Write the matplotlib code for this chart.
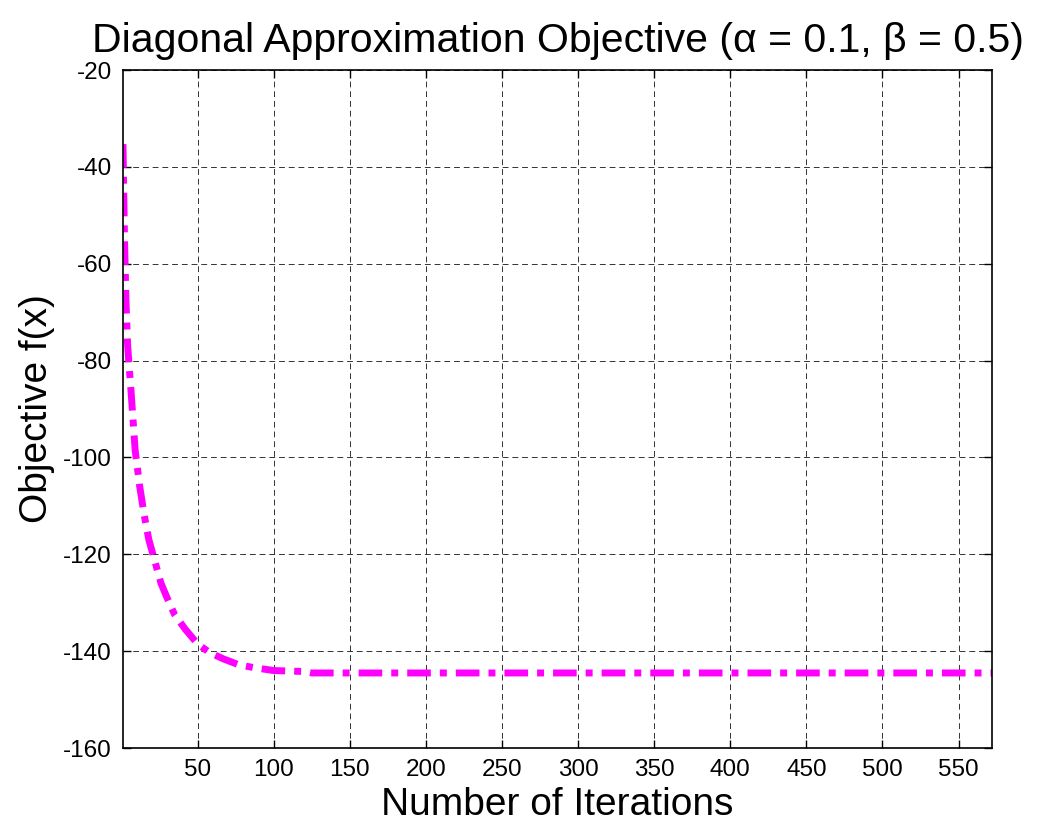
import matplotlib
matplotlib.use('Agg')
from matplotlib import pyplot as plt

# Objective value against iteration count
iteraciones = [1, 2, 3, 4, 5, 6, 7, 8, 9, 10, 12, 15, 18, 22, 26, 30, 35, 42, 50, 58, 67, 77,
               87, 100, 110, 120, 125, 150, 200, 300, 400, 500, 572]
objetivo = [-35.3, -55.0, -68.0, -76.5, -81.0, -85.0, -89.5, -94.0, -98.5, -101.0, -106.0,
            -112.0, -117.0, -121.5, -126.0, -129.0, -132.5, -135.5, -138.5, -140.3, -141.6, -142.8,
            -143.4, -144.0, -144.1, -144.2, -144.5, -144.5, -144.5, -144.5, -144.5, -144.5, -144.5]

xticks = [50, 100, 150, 200, 250, 300, 350, 400, 450, 500, 550]
yticks = [-160, -140, -120, -100, -80, -60, -40, -20]

plt.rcParams['font.family'] = ['Liberation Sans', 'DejaVu Sans']
plt.rcParams['axes.unicode_minus'] = False

fig = plt.figure(figsize=(10.52, 8.24), dpi=100)
ax = fig.add_axes([0.1169, 0.0922, 0.8261, 0.8228])

linea, = ax.plot(iteraciones, objetivo, color='#ff00ff', linewidth=5.0,
                 solid_capstyle='butt', dash_capstyle='butt')
linea.set_dashes((3.4, 1.3, 1.0, 1.3))

ax.set_xlim(1, 572)
ax.set_ylim(-160, -20)
ax.set_xticks(xticks)
ax.set_yticks(yticks)

ax.grid(True, color='black', linestyle=(0, (6, 4)), linewidth=0.7, alpha=0.8)
ax.tick_params(direction='in', length=6, width=1, top=True, right=True,
               labelsize=17.5, pad=8)
for lado in ax.spines.values():
    lado.set_linewidth(1.2)

ax.set_xlabel('Number of Iterations', fontsize=28, labelpad=4)
ax.set_ylabel('Objective f(x)', fontsize=28, labelpad=6)
ax.set_title('Diagonal Approximation Objective (\u03b1 = 0.1, \u03b2 = 0.5)', fontsize=29.5, pad=13)

fig.savefig('out.png', dpi=100)
